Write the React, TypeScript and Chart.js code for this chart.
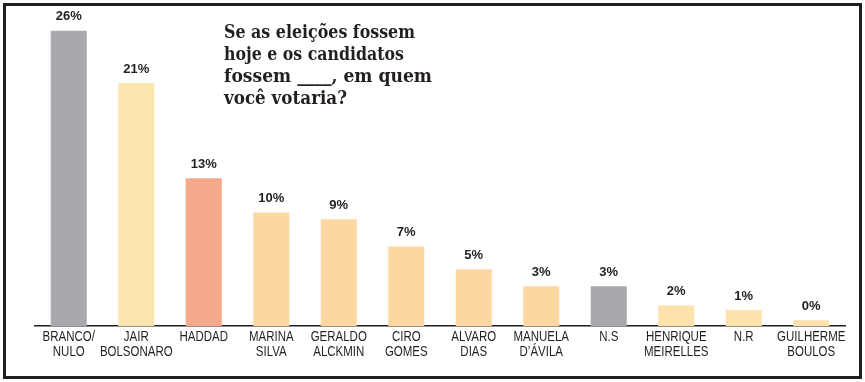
import React, { useEffect, useRef } from "react";
import { Chart, registerables } from "chart.js";

Chart.register(...registerables);

const categories: string[][] = [
  ["BRANCO/", "NULO"],
  ["JAIR", "BOLSONARO"],
  ["HADDAD"],
  ["MARINA", "SILVA"],
  ["GERALDO", "ALCKMIN"],
  ["CIRO", "GOMES"],
  ["ALVARO", "DIAS"],
  ["MANUELA", "D’ÁVILA"],
  ["N.S"],
  ["HENRIQUE", "MEIRELLES"],
  ["N.R"],
  ["GUILHERME", "BOULOS"],
];
const barHeights: number[] = [26, 21.4, 13, 10, 9.4, 7, 5, 3.5, 3.5, 1.8, 1.4, 0.5];
const valueLabels: string[] = ["26%", "21%", "13%", "10%", "9%", "7%", "5%", "3%", "3%", "2%", "1%", "0%"];
const barColors: string[] = [
  "#a8a9ad", "#fde5b0", "#f5a98b", "#fcd7a2", "#fcd7a2", "#fcd7a2",
  "#fcd7a2", "#fcd7a2", "#a8a9ad", "#fde2ab", "#fde2ab", "#fde2ab",
];
const titleLines: string[] = [
  "Se as eleições fossem",
  "hoje e os candidatos",
  "fossem ____, em quem",
  "você votaria?",
];
const titleWidths: number[] = [191, 180, 208, 123];

const INK = "#231f20";

const decorPlugin = {
  id: "decor",
  afterDatasetsDraw(chart: any) {
    const ctx = chart.ctx;
    ctx.save();
    // frame
    ctx.strokeStyle = INK;
    ctx.lineWidth = 3;
    ctx.strokeRect(4.5, 4.5, 856, 373);
    // value labels
    const meta = chart.getDatasetMeta(0);
    ctx.fillStyle = INK;
    ctx.font = "bold 13px 'Liberation Sans', Arial, sans-serif";
    ctx.textAlign = "center";
    ctx.textBaseline = "middle";
    meta.data.forEach((bar: any, i: number) => {
      ctx.fillText(valueLabels[i], bar.x, bar.y - 14);
    });
    // category labels (condensed)
    const xs = chart.scales.x;
    const top = xs.top;
    ctx.textBaseline = "alphabetic";
    ctx.font = "14px 'Liberation Sans', Arial, sans-serif";
    categories.forEach((lines, i) => {
      const cx = xs.getPixelForValue(i);
      lines.forEach((line, j) => {
        ctx.save();
        ctx.translate(cx, top + 14.5 + j * 15);
        ctx.scale(0.82, 1);
        ctx.fillText(line, 0, 0);
        ctx.restore();
      });
    });
    // title
    ctx.textAlign = "left";
    ctx.font = "bold 19px 'DejaVu Serif', serif";
    titleLines.forEach((line, i) => {
      const w = ctx.measureText(line).width;
      ctx.fillText(line, 224, 38 + i * 22, Math.min(w, titleWidths[i]));
    });
    ctx.restore();
  },
};

export default function App() {
  const ref = useRef<HTMLCanvasElement | null>(null);
  useEffect(() => {
    if (!ref.current) return;
    const chart = new Chart(ref.current, {
      type: "bar",
      data: {
        labels: categories,
        datasets: [
          {
            data: barHeights,
            backgroundColor: barColors,
            borderWidth: 0,
            barPercentage: 0.534,
            categoryPercentage: 1,
          },
        ],
      },
      options: {
        responsive: false,
        animation: false,
        layout: { padding: { left: 35, right: 20, top: 8, bottom: 0 } },
        plugins: {
          legend: { display: false },
          tooltip: { enabled: false },
        },
        scales: {
          x: {
            grid: { display: false, drawTicks: false },
            border: { display: true, color: INK, width: 1.5 },
            ticks: { display: false },
            afterFit(scale: any) {
              scale.height = 56;
            },
          },
          y: {
            display: false,
            min: 0,
            max: 28,
          },
        },
      },
      plugins: [decorPlugin],
    });
    return () => chart.destroy();
  }, []);
  return (
    <div style={{ position: "fixed", left: 0, top: 0, width: 865, height: 382, background: "#fff" }}>
      <canvas ref={ref} width={865} height={382} style={{ display: "block" }} />
    </div>
  );
}
